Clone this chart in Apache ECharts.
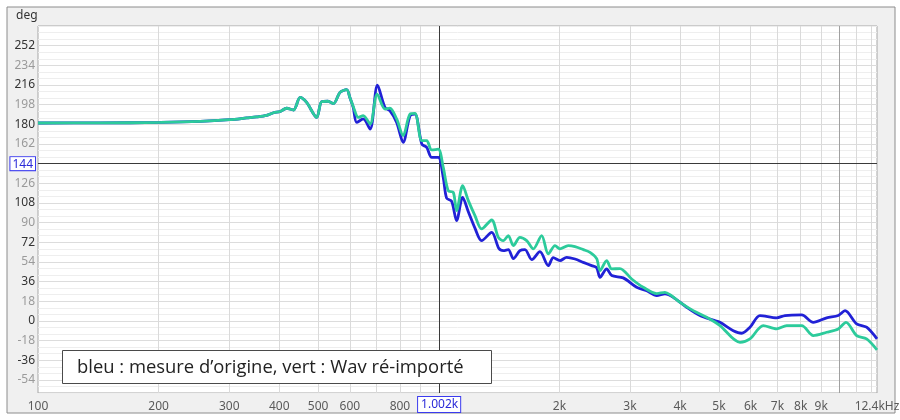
<!DOCTYPE html>
<html><head><meta charset="utf-8">
<script src="https://cdn.jsdelivr.net/npm/echarts@6/dist/echarts.min.js"></script>
<style>html,body{margin:0;padding:0;background:#fff}#c{width:900px;height:420px}</style>
</head><body><div id="c"></div>
<script>
// ---- data ----
const greenFreq = [100,143,202,254,301,332,351,372,387,402,417,434,451,468,496,510,529,546,567,589,600,612,630,648,674,702,734,755,785,815,848,872,907,933,960,997,1026,1056,1087,1108,1147,1185,1231,1279,1355,1408,1449,1491,1535,1594,1657,1721,1806,1876,1950,2006,2104,2187,2294,2384,2477,2525,2624,2701,2832,3029,3237,3498,3668,3775,3999,4315,4660,5030,5643,5976,6450,6966,7379,8044,8600,9287,9926,10375,11030,11680,12400];
const greenDeg  = [181.2,181.3,181.7,182.6,184.2,185.8,186.7,188.2,190.6,191.7,194.7,193.1,204.6,200.0,186.3,200.7,201.1,198.9,209.2,211.7,204.6,196.1,186.3,187.9,180.3,207.7,194.0,194.9,184.9,169.6,189.4,190.0,165.0,165.0,156.5,157.2,140.6,119.2,117.7,100.9,123.8,110.1,96.4,84.2,92.4,76.5,73.5,78.1,68.9,76.5,73.5,65.9,78.1,61.3,68.9,65.9,68.9,68.0,65.3,62.8,57.0,46.0,55.2,47.6,47.9,38.4,30.8,25.0,26.2,24.1,17.0,9.4,3.3,-4.3,-19.6,-16.5,-4.3,-7.3,-4.3,-4.3,-13.4,-10.4,-7.3,-1.3,-13.4,-16.5,-26.5];
const blueFreq = [100,143,202,254,301,332,351,372,387,402,417,434,451,468,496,510,529,546,567,589,600,612,624,648,674,703,734,755,785,815,848,872,907,933,960,997,1026,1046,1077,1108,1147,1185,1231,1279,1355,1413,1449,1491,1535,1594,1641,1706,1788,1876,1931,2006,2085,2187,2294,2407,2477,2525,2624,2701,2886,3117,3302,3498,3668,3847,4154,4484,4841,5030,5430,5698,5976,6331,6966,7308,8044,8600,9287,9926,10320,11030,11680,12400];
const blueDeg  = [181.2,181.3,181.7,182.6,184.2,185.8,186.7,188.2,190.6,191.7,194.7,193.1,204.6,200.0,186.3,200.7,201.1,198.9,209.2,211.7,204.6,195.2,181.7,184.9,175.7,215.8,195.5,192.4,181.7,163.4,187.9,189.4,162.0,158.9,149.7,149.7,131.4,112.4,109.4,91.8,113.1,100.0,84.9,73.5,81.1,66.2,64.3,65.3,57.0,64.3,65.3,56.1,63.4,50.6,57.9,55.2,58.2,56.7,53.6,50.6,48.8,39.9,47.6,41.5,39.4,30.8,27.7,23.2,24.7,21.6,12.5,4.9,0.7,-1.3,-8.9,-11.3,-5.8,4.9,2.8,4.9,5.5,-1.3,2.8,4.9,9.4,-2.7,-5.8,-16.5];
const xTickValues = [100,200,300,400,500,600,800,1002,2000,3000,4000,5000,6000,7000,8000,9000,12400];
const xTickLabels = ['100','200','300','400','500','600','800','1.002k','2k','3k','4k','5k','6k','7k','8k','9k','12.4kHz'];
const xGridMinor = [200,300,400,500,600,700,800,900,1000,2000,3000,4000,5000,6000,7000,8000,9000,11000,12000];
const xGridMajor = [10000];
const yMajorTicks = [-54,-36,-18,0,18,36,54,72,90,108,126,144,162,180,198,216,234,252];
const cursorFreq = 1002;
const cursorDeg = 144;
const legendText = 'bleu : mesure d\u2019origine, vert : Wav r\u00e9-import\u00e9';

const FONT = '"Noto Sans", "Open Sans", sans-serif';
const toPairs = (f, d) => f.map((v, i) => [v, d[i]]);

const chart = echarts.init(document.getElementById('c'));

const xLabelLines = xTickValues.map((v, i) => {
  const sel = v === cursorFreq;
  return {
    xAxis: v,
    lineStyle: { width: 1, color: 'rgba(0,0,0,0)', type: 'solid' },
    label: {
      show: true, position: 'start', distance: sel ? 4 : 8,
      formatter: xTickLabels[i],
      fontFamily: FONT, fontSize: 12,
      color: sel ? '#2a2ad8' : '#5a5a5a',
      backgroundColor: sel ? '#fff' : 'transparent',
      borderColor: sel ? '#3b3bef' : 'transparent',
      borderWidth: sel ? 1 : 0,
      padding: sel ? [2, 2, 1, 3] : 0
    }
  };
});

const option = {
  animation: false,
  backgroundColor: '#fff',
  graphic: [
    { type: 'rect', z: -10, shape: { x: 7, y: 7, width: 888, height: 406 },
      style: { fill: '#f0f0f0', stroke: '#8c8c8c', lineWidth: 1 } },
    { type: 'text', z: 10, left: 16, top: 10,
      style: { text: 'deg', font: '12px ' + FONT, fill: '#333' } },
    { type: 'rect', z: 100, shape: { x: 62.5, y: 350.5, width: 429, height: 33 },
      style: { fill: '#fff', stroke: '#4a4a4a', lineWidth: 1 } },
    { type: 'text', z: 101, x: 77, y: 368,
      style: { text: legendText, font: '18.4px "Open Sans", "Noto Sans", sans-serif', fill: '#222', textVerticalAlign: 'middle' } }
  ],
  grid: { left: 38, right: 23, top: 26, bottom: 27, show: true,
          backgroundColor: '#fff', borderColor: '#a6a6a6', borderWidth: 1 },
  xAxis: {
    type: 'log', logBase: 10, min: 100, max: 12400,
    axisLine: { show: false }, axisTick: { show: false },
    axisLabel: { show: false }, splitLine: { show: false }, minorSplitLine: { show: false }
  },
  yAxis: {
    type: 'value', min: -66, max: 270, interval: 6,
    axisLine: { show: false }, axisTick: { show: false },
    splitLine: { show: true, lineStyle: { color: '#eeeeee', width: 1 } },
    axisLabel: {
      margin: 3, fontFamily: FONT, fontSize: 12,
      formatter: v => {
        if (v % 18 !== 0 || v > 252 || v < -54) return '';
        if (v === cursorDeg) return '{sel|' + v + '}';
        return (v % 36 === 0) ? '{a|' + v + '}' : '{b|' + v + '}';
      },
      rich: {
        a: { color: '#333', fontFamily: FONT, fontSize: 12 },
        b: { color: '#9a9a9a', fontFamily: FONT, fontSize: 12 },
        sel: { color: '#2a2ad8', fontFamily: FONT, fontSize: 12, backgroundColor: '#fff',
               borderColor: '#3b3bef', borderWidth: 1, padding: [1, 2, 0, 2] }
      }
    }
  },
  series: [
    { // grid lines, tick labels and cursor
      type: 'line', data: [], silent: true, z: 1,
      markLine: {
        silent: true, symbol: 'none', animation: false, z: 1,
        label: { show: false },
        data: [
          ...yMajorTicks.map(v => ({ yAxis: v, lineStyle: { color: '#dcdcdc', width: 1, type: 'solid' } })),
          ...xGridMinor.map(v => ({ xAxis: v, lineStyle: { color: '#dadada', width: 1, type: 'solid' } })),
          ...xGridMajor.map(v => ({ xAxis: v, lineStyle: { color: '#a0a0a0', width: 1, type: 'solid' } })),
          ...xLabelLines,
          { yAxis: cursorDeg, lineStyle: { color: '#3a3a3a', width: 1, type: 'solid' } },
          { xAxis: cursorFreq, lineStyle: { color: '#3a3a3a', width: 1, type: 'solid' } }
        ]
      }
    },
    { name: 'bleu', type: 'line', data: toPairs(blueFreq, blueDeg), showSymbol: false, smooth: 0.3,
      lineStyle: { color: '#2121d6', width: 2.8 }, itemStyle: { color: '#2121d6' }, z: 6 },
    { name: 'vert', type: 'line', data: toPairs(greenFreq, greenDeg), showSymbol: false, smooth: 0.3,
      lineStyle: { color: '#2ccb9b', width: 2.8 }, itemStyle: { color: '#2ccb9b' }, z: 7 }
  ]
};
chart.setOption(option);
</script>
</body></html>
